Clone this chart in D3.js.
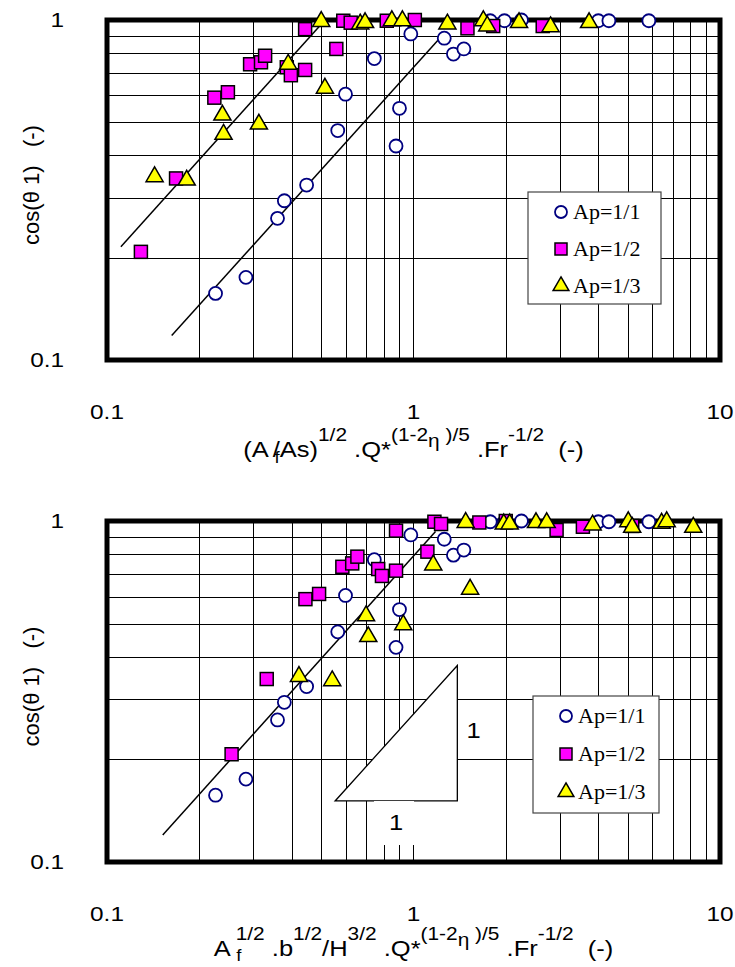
<!DOCTYPE html>
<html lang="en">
<head>
<meta charset="utf-8">
<title>cos(θ1) scaling plots</title>
<script src="https://d3js.org/d3.v7.min.js"></script>
<style>
	html, body { margin: 0; padding: 0; background: #fff; }
	svg { display: block; }
	text { font-family: Arial, "Liberation Sans", sans-serif; white-space: pre; }
	.legend-text { font-family: "Times New Roman", "Liberation Serif", serif; }
</style>
</head>
<body>
<div id="chart"></div>
<script>
// Data: [x, cos(theta1)]
// Ap=1/1 sits at the same places in both panels
const ap11 = [
	[0.98, 0.91], [0.745, 0.77], [0.60, 0.605], [0.90, 0.55], [0.566, 0.473],
	[0.877, 0.426], [0.448, 0.327], [0.379, 0.294], [0.36, 0.261], [0.284, 0.175],
	[0.226, 0.157], [1.26, 0.884], [1.35, 0.794], [1.46, 0.822], [1.78, 0.995],
	[1.98, 0.995], [2.25, 1.0], [4.01, 0.995], [4.34, 0.995], [5.86, 0.995]
];
const ap12Top = [
	[0.443, 0.94], [0.59, 0.995], [0.624, 0.982], [0.56, 0.822], [0.293, 0.741],
	[0.318, 0.751], [0.328, 0.785], [0.386, 0.726], [0.398, 0.688], [0.443, 0.713],
	[0.224, 0.591], [0.248, 0.613], [0.168, 0.342], [0.129, 0.208], [0.818, 0.995],
	[1.01, 1.0], [1.5, 0.945], [1.82, 0.96], [2.64, 0.96]
];
const ap13Top = [
	[0.50, 0.99], [0.39, 0.741], [0.514, 0.63], [0.238, 0.525], [0.24, 0.461],
	[0.313, 0.494], [0.143, 0.346], [0.182, 0.338], [0.67, 0.973], [0.695, 0.982],
	[0.85, 0.995], [0.92, 0.995], [1.29, 0.973], [1.69, 0.995], [1.74, 0.96],
	[2.21, 0.982], [2.8, 0.955], [3.74, 0.982]
];
const ap12Bottom = [
	[0.877, 0.937], [0.586, 0.734], [0.631, 0.751], [0.656, 0.786], [0.767, 0.723],
	[0.789, 0.69], [0.877, 0.715], [0.444, 0.59], [0.492, 0.611], [0.332, 0.344],
	[0.255, 0.207], [1.17, 0.995], [1.23, 0.98], [1.11, 0.813], [1.64, 0.99],
	[2.0, 1.0], [2.93, 0.941], [3.57, 0.962], [5.17, 0.967]
];
const ap13Bottom = [
	[0.70, 0.527], [0.712, 0.458], [0.926, 0.496], [0.423, 0.35], [0.543, 0.34],
	[1.48, 0.99], [1.97, 0.98], [2.06, 0.98], [2.51, 0.989], [2.72, 0.989],
	[3.84, 0.973], [5.02, 0.995], [5.17, 0.958], [6.45, 0.985], [6.70, 0.995],
	[8.18, 0.958], [1.16, 0.743], [1.53, 0.631]
];

// fitted lines (slope 1 on log-log)
const fitTopLeft = [[0.111, 0.2155], [0.50, 0.972]];
const fitTopRight = [[0.1626, 0.118], [1.22, 0.885]];
const fitBottom = [[0.152, 0.12], [1.18, 0.932]];

// 1:1 slope triangle in the lower panel and its labels
const slopeTriangle = [[0.555, 0.151], [1.39, 0.151], [1.39, 0.377]];
const slopeLabels = [
	{ x: 1.57, y: 0.244, text: "1" },
	{ x: 0.877, y: 0.131, text: "1" }
];

const xTicks = [0.1, 1, 10];
const yTicks = [0.1, 1];
const xGrid = [0.2, 0.3, 0.4, 0.5, 0.6, 0.7, 0.8, 0.9, 1, 2, 3, 4, 5, 6, 7, 8, 9];
const yGrid = [0.2, 0.3, 0.4, 0.5, 0.6, 0.7, 0.8, 0.9];
const legendNames = ["Ap=1/1", "Ap=1/2", "Ap=1/3"];

const yTitle = "cos(θ 1)   (-)";
const xTitleTop = [
	{ t: "(A ", s: 22, b: 0 },
	{ t: "f", s: 16, b: 6 },
	{ t: "/As)", s: 22, b: 0, dx: -6 },
	{ t: "1/2", s: 18, b: -16 },
	{ t: " .Q*", s: 22, b: 0 },
	{ t: "(1-2", s: 18, b: -16 },
	{ t: "η", s: 18, b: -10 },
	{ t: " )/5", s: 18, b: -16 },
	{ t: " .Fr", s: 22, b: 0 },
	{ t: "-1/2", s: 18, b: -16 },
	{ t: "  (-)", s: 22, b: 0 }
];
const xTitleBottom = [
	{ t: "A ", s: 22, b: 0 },
	{ t: "f", s: 16, b: 5 },
	{ t: "1/2", s: 18, b: -16, dx: -5 },
	{ t: " .b", s: 22, b: 0 },
	{ t: "1/2", s: 18, b: -16 },
	{ t: "/H", s: 22, b: 0 },
	{ t: "3/2", s: 18, b: -16 },
	{ t: " .Q*", s: 22, b: 0 },
	{ t: "(1-2", s: 18, b: -16 },
	{ t: "η", s: 18, b: -10 },
	{ t: " )/5", s: 18, b: -16 },
	{ t: " .Fr", s: 22, b: 0 },
	{ t: "-1/2", s: 18, b: -16 },
	{ t: "  (-)", s: 22, b: 0 }
];

// Chart dimensions
const width = 735;
const height = 967;
const left = 107;
const right = 720;
const stretch = 1.16; // the original's lettering is a bit wide

const svg = d3.select("#chart")
	.append("svg")
	.attr("width", width)
	.attr("height", height);

const colors = { circle: "#000080", square: "#ff00ff", triangle: "#ffff00" };

function drawMarker(sel, kind, size) {
	if (kind === 0) {
		sel.append("circle")
			.attr("r", size * 0.5)
			.attr("fill", "#fff")
			.attr("stroke", colors.circle)
			.attr("stroke-width", 1.8);
	} else if (kind === 1) {
		sel.append("rect")
			.attr("x", -size / 2).attr("y", -size / 2)
			.attr("width", size).attr("height", size)
			.attr("fill", colors.square)
			.attr("stroke", "#000")
			.attr("stroke-width", 1.5);
	} else {
		sel.append("path")
			.attr("d", d3.symbol(d3.symbolTriangle, size * size * 0.75)())
			.attr("fill", colors.triangle)
			.attr("stroke", "#000")
			.attr("stroke-width", 1.5);
	}
}

function addRichTitle(g, x, y, parts) {
	const txt = g.append("text")
		.attr("transform", `translate(${x},${y}) scale(${stretch},1)`)
		.attr("text-anchor", "middle")
		.attr("fill", "#000");
	let prev = 0;
	parts.forEach(p => {
		txt.append("tspan")
			.attr("dy", p.b - prev)
			.attr("dx", p.dx || 0)
			.attr("font-size", p.s)
			.text(p.t);
		prev = p.b;
	});
}

function drawPanel(cfg) {
	const g = svg.append("g");

	const x = d3.scaleLog().domain([0.1, 10]).range([left, right]);
	const y = d3.scaleLog().domain([0.1, 1]).range([cfg.bottom, cfg.top]);

	// grid
	g.selectAll("line.vgrid")
		.data(xGrid)
		.enter()
		.append("line")
		.attr("class", "vgrid")
		.attr("x1", d => Math.round(x(d)) + 0.5)
		.attr("x2", d => Math.round(x(d)) + 0.5)
		.attr("y1", cfg.top)
		.attr("y2", cfg.bottom)
		.attr("stroke", "#000")
		.attr("stroke-width", 1);

	g.selectAll("line.hgrid")
		.data(yGrid)
		.enter()
		.append("line")
		.attr("class", "hgrid")
		.attr("x1", left)
		.attr("x2", right)
		.attr("y1", d => Math.round(y(d)) + 0.5)
		.attr("y2", d => Math.round(y(d)) + 0.5)
		.attr("stroke", "#000")
		.attr("stroke-width", 1);

	// frame
	g.append("rect")
		.attr("x", left)
		.attr("y", cfg.top)
		.attr("width", right - left)
		.attr("height", cfg.bottom - cfg.top)
		.attr("fill", "none")
		.attr("stroke", "#000")
		.attr("stroke-width", 5);

	// tick labels
	g.selectAll("text.xtick")
		.data(xTicks)
		.enter()
		.append("text")
		.attr("class", "xtick")
		.attr("transform", d => `translate(${x(d)},${cfg.bottom + 59}) scale(${stretch},1)`)
		.attr("text-anchor", "middle")
		.attr("font-size", 21)
		.text(d => d3.format("~g")(d));

	g.selectAll("text.ytick")
		.data(yTicks)
		.enter()
		.append("text")
		.attr("class", "ytick")
		.attr("transform", d => `translate(64,${y(d) + 7}) scale(${stretch},1)`)
		.attr("text-anchor", "end")
		.attr("font-size", 21)
		.text(d => d3.format("~g")(d));

	// axis titles
	g.append("text")
		.attr("transform", `translate(39,${(cfg.top + cfg.bottom) / 2 - 5}) rotate(-90)`)
		.attr("text-anchor", "middle")
		.attr("font-size", 22)
		.text(yTitle);

	addRichTitle(g, (left + right) / 2, cfg.bottom + cfg.titleGap, cfg.xTitle);

	// slope triangle (lower panel only)
	if (cfg.triangle) {
		g.append("path")
			.datum(cfg.triangle)
			.attr("d", d3.line().x(d => x(d[0])).y(d => y(d[1])).curve(d3.curveLinearClosed))
			.attr("fill", "#fff")
			.attr("stroke", "#000")
			.attr("stroke-width", 1.3);

		const lab = g.selectAll("g.slope-label")
			.data(slopeLabels)
			.enter()
			.append("g")
			.attr("class", "slope-label")
			.attr("transform", d => `translate(${x(d.x)},${y(d.y)})`);
		lab.filter((d, i) => i === 1)
			.append("rect")
			.attr("x", -22).attr("y", -21)
			.attr("width", 40).attr("height", 44)
			.attr("fill", "#fff");
		lab.append("text")
			.attr("transform", `translate(0,8) scale(${stretch},1)`)
			.attr("text-anchor", "middle")
			.attr("font-size", 22)
			.text(d => d.text);
	}

	// fitted lines
	const line = d3.line().x(d => x(d[0])).y(d => y(d[1]));
	g.selectAll("path.fit")
		.data(cfg.fits)
		.enter()
		.append("path")
		.attr("class", "fit")
		.attr("d", line)
		.attr("fill", "none")
		.attr("stroke", "#000")
		.attr("stroke-width", 1.5);

	// markers
	cfg.series.forEach((data, k) => {
		g.selectAll(`g.s${k}`)
			.data(data)
			.enter()
			.append("g")
			.attr("class", `s${k}`)
			.attr("transform", d => `translate(${x(d[0])},${y(d[1])})`)
			.call(sel => drawMarker(sel, k, 13));
	});

	// legend
	const lg = g.append("g")
		.attr("transform", `translate(${cfg.legend.x},${cfg.legend.y})`);
	lg.append("rect")
		.attr("width", cfg.legend.w)
		.attr("height", cfg.legend.h)
		.attr("fill", "#fff")
		.attr("stroke", "#444")
		.attr("stroke-width", 1.2);
	const items = lg.selectAll("g.item")
		.data(legendNames)
		.enter()
		.append("g")
		.attr("class", "item")
		.attr("transform", (d, i) => `translate(0,${cfg.legend.first + i * cfg.legend.step})`);
	items.each(function (d, i) {
		const m = d3.select(this).append("g").attr("transform", "translate(33,0)");
		drawMarker(m, i, 12);
	});
	items.append("text")
		.attr("class", "legend-text")
		.attr("x", 45)
		.attr("y", 7)
		.attr("font-size", 22)
		.text(d => d);
}

drawPanel({
	top: 20, bottom: 360,
	series: [ap11, ap12Top, ap13Top],
	fits: [fitTopLeft, fitTopRight],
	legend: { x: 528, y: 192, w: 133, h: 112, first: 20, step: 37 },
	xTitle: xTitleTop,
	titleGap: 97
});

drawPanel({
	top: 521, bottom: 862,
	series: [ap11, ap12Bottom, ap13Bottom],
	fits: [fitBottom],
	triangle: slopeTriangle,
	legend: { x: 533, y: 696, w: 126, h: 117, first: 20, step: 38 },
	xTitle: xTitleBottom,
	titleGap: 94
});
</script>
</body>
</html>
